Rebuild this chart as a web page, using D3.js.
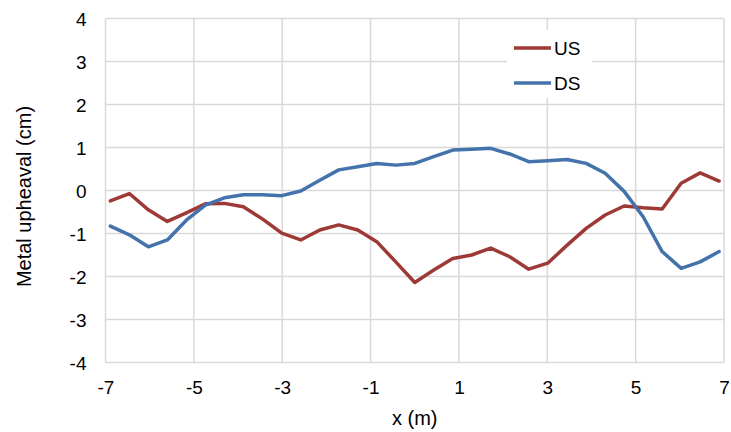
<!DOCTYPE html>
<html>
<head>
<meta charset="utf-8">
<script src="https://cdn.jsdelivr.net/npm/d3@7"></script>
<style>
  html, body { margin: 0; padding: 0; background: #ffffff; }
  svg { display: block; font-family: "Liberation Sans", Arial, sans-serif; }
</style>
</head>
<body>
<svg id="chart" width="731" height="432"></svg>
<script>
// Data
const xPositions = [-6.89, -6.46, -6.03, -5.60, -5.17, -4.74, -4.31, -3.88, -3.45, -3.01, -2.58, -2.15, -1.72, -1.29, -0.86, -0.43, 0.00,
                    0.43, 0.86, 1.29, 1.72, 2.15, 2.58, 3.01, 3.45, 3.88, 4.31, 4.74, 5.17, 5.60, 6.03, 6.46, 6.89];
const usValues = [-0.24, -0.07, -0.45, -0.72, -0.52, -0.31, -0.30, -0.38, -0.66, -0.99, -1.15, -0.92, -0.80, -0.92, -1.19, -1.66, -2.14,
                  -1.85, -1.58, -1.50, -1.34, -1.54, -1.83, -1.69, -1.27, -0.88, -0.57, -0.36, -0.40, -0.43, 0.17, 0.41, 0.22];
const dsValues = [-0.83, -1.03, -1.31, -1.15, -0.69, -0.34, -0.17, -0.10, -0.10, -0.12, -0.01, 0.24, 0.48, 0.55, 0.63, 0.59, 0.63,
                  0.79, 0.94, 0.96, 0.98, 0.85, 0.67, 0.69, 0.72, 0.63, 0.40, -0.02, -0.61, -1.42, -1.81, -1.66, -1.42];
const xTicks = [-7, -5, -3, -1, 1, 3, 5, 7];
const yTicks = [-4, -3, -2, -1, 0, 1, 2, 3, 4];
const seriesNames = ["US", "DS"];
const seriesColors = ["#9e3a36", "#4472ab"];

const svg = d3.select("#chart");
const x = d3.scaleLinear().domain([-7, 7]).range([105.5, 724]);
const y = d3.scaleLinear().domain([-4, 4]).range([362.5, 18.5]);

const gridColor = "#d9d9d9";
const fontSize = 19;
const fmt = d => String(d);

// Grid lines
svg.append("g").selectAll("line.h").data(yTicks).join("line")
  .attr("x1", x(-7)).attr("x2", x(7))
  .attr("y1", d => y(d)).attr("y2", d => y(d))
  .attr("stroke", gridColor).attr("stroke-width", 1.5);
svg.append("g").selectAll("line.v").data(xTicks).join("line")
  .attr("x1", d => x(d)).attr("x2", d => x(d))
  .attr("y1", y(4)).attr("y2", y(-4))
  .attr("stroke", gridColor).attr("stroke-width", 1.5);

// Axes (tick labels only, lines drawn as grid)
const yAxis = d3.axisLeft(y).tickValues(yTicks).tickSize(0).tickPadding(0).tickFormat(fmt);
const gy = svg.append("g").attr("transform", `translate(${x(-7) - 19},0)`).call(yAxis);
gy.select(".domain").remove();
gy.selectAll("text").attr("font-size", fontSize).attr("fill", "#000").attr("dy", "0.35em")
  .attr("font-family", "Liberation Sans, Arial, sans-serif");

const xAxis = d3.axisBottom(x).tickValues(xTicks).tickSize(0).tickPadding(0).tickFormat(fmt);
const gx = svg.append("g").attr("transform", `translate(0,${y(-4) + 18})`).call(xAxis);
gx.select(".domain").remove();
gx.selectAll("text").attr("font-size", fontSize).attr("fill", "#000").attr("dy", "0.71em")
  .attr("font-family", "Liberation Sans, Arial, sans-serif");

// Axis titles
svg.append("text")
  .attr("transform", `translate(24,${(y(4) + y(-4)) / 2 + 6}) rotate(-90)`)
  .attr("text-anchor", "middle").attr("dy", "0.35em")
  .attr("font-size", fontSize + 1).attr("fill", "#000")
  .text("Metal upheaval (cm)");
svg.append("text")
  .attr("x", (x(-7) + x(7)) / 2).attr("y", 425)
  .attr("text-anchor", "middle")
  .attr("font-size", fontSize + 1).attr("fill", "#000")
  .text("x (m)");

// Lines
const line = d3.line().x(d => x(d[0])).y(d => y(d[1]));
const seriesData = [usValues, dsValues];
seriesData.forEach((vals, i) => {
  const pts = xPositions.map((xv, j) => [xv, vals[j]]);
  svg.append("path").datum(pts)
    .attr("d", line)
    .attr("fill", "none")
    .attr("stroke", seriesColors[i])
    .attr("stroke-width", 3.5)
    .attr("stroke-linejoin", "round")
    .attr("stroke-linecap", "round");
});

// Legend
const legend = svg.append("g");
legend.append("rect").attr("x", 507).attr("y", 30).attr("width", 85).attr("height", 68).attr("fill", "#fff");
seriesNames.forEach((name, i) => {
  const ly = 48 + i * 35;
  legend.append("line").attr("x1", 514).attr("x2", 551).attr("y1", ly).attr("y2", ly)
    .attr("stroke", seriesColors[i]).attr("stroke-width", 3.5);
  legend.append("text").attr("x", 554).attr("y", ly).attr("dy", "0.35em")
    .attr("font-size", fontSize).attr("fill", "#000").text(name);
});
</script>
</body>
</html>
